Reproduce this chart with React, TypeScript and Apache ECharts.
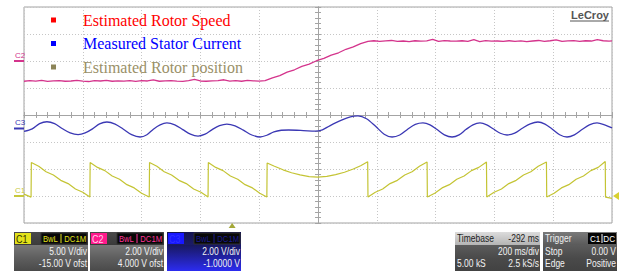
import React, { useEffect, useRef } from "react";
import * as echarts from "echarts";

// ---- Screen: 10 div x 200 ms/div (time in ms from left edge), 8 vertical div ----
const timeSpan = [0, 2000];
const msPerDiv = 200;
const triggerTime = 708; // -292 ms timebase delay -> trigger at centre - 292 ms

// ---- Channels: C1 position, C2 speed, C3 current ----
const channelNames = ["C1", "C2", "C3"];
const voltsPerDiv = [5, 2, 2];
const channelOffsets = [-15, 4, -1];
const channelLabelColors = ["#c8c83c", "#d4348c", "#3b38b4"];

// ---- Legend ----
const legendNames = ["Estimated Rotor Speed", "Measured Stator Current", "Estimated Rotor position"];
const legendTextColors = ["#ff0000", "#0000ff", "#9a9068"];
const legendMarkColors = ["#ff0000", "#0000ff", "#8c8458"];

// ---- Trace colours ----
const speedColor = "#d4348c";
const currentColor = "#3b38b4";
const positionColor = "#c4c434";

// ---- C2: estimated rotor speed [ms, V] ----
const speedData: [number, number][] = [
  [0, -1.5], [20, -1.46], [40, -1.49], [60, -1.44], [80, -1.51], [100, -1.47], [120, -1.45], [140, -1.5],
  [160, -1.48], [180, -1.43], [200, -1.49], [220, -1.52], [240, -1.46], [260, -1.48], [280, -1.44], [300, -1.5],
  [320, -1.47], [340, -1.49], [360, -1.45], [380, -1.51], [400, -1.46], [420, -1.48], [440, -1.4], [460, -1.5],
  [480, -1.47], [500, -1.45], [520, -1.49], [540, -1.51], [560, -1.46], [580, -1.36], [600, -1.48], [620, -1.5],
  [640, -1.47], [660, -1.45], [680, -1.39], [700, -1.49], [720, -1.46], [740, -1.5], [760, -1.44], [780, -1.47],
  [800, -1.49], [820, -1.46],
  [845, -1.25], [870, -1.08], [895, -0.83], [920, -0.65], [945, -0.4], [970, -0.23], [995, 0.02], [1020, 0.19],
  [1045, 0.44], [1070, 0.61], [1095, 0.87], [1120, 1.04], [1145, 1.29], [1170, 1.46],
  [1190, 1.5], [1210, 1.45], [1230, 1.49], [1250, 1.52], [1270, 1.46], [1290, 1.48], [1310, 1.44], [1330, 1.5],
  [1350, 1.47], [1370, 1.49], [1390, 1.6], [1410, 1.45], [1430, 1.51], [1450, 1.48], [1470, 1.47], [1490, 1.5],
  [1510, 1.46], [1530, 1.58], [1550, 1.44], [1570, 1.51], [1590, 1.47], [1610, 1.48], [1630, 1.45], [1650, 1.5],
  [1670, 1.46], [1690, 1.49], [1710, 1.43], [1730, 1.48], [1750, 1.52], [1770, 1.46], [1790, 1.5], [1810, 1.57],
  [1830, 1.45], [1850, 1.49], [1870, 1.51], [1890, 1.46], [1910, 1.5], [1930, 1.48], [1950, 1.58], [1970, 1.5],
  [1990, 1.47], [2000, 1.49],
];

// ---- C3: measured stator current [ms, V] ----
const currentData: [number, number][] = [
  [0, -0.22], [28, -0.03], [53, 0.36], [78, 0.5], [104, 0.36], [131, -0.02], [157, -0.33], [184, -0.45],
  [208, -0.33], [233, -0.03], [257, 0.34], [282, 0.48], [310, 0.33], [338, -0.05], [366, -0.46], [395, -0.63],
  [418, -0.46], [440, -0.05], [463, 0.27], [486, 0.41], [513, 0.27], [540, -0.08], [566, -0.42], [592, -0.56],
  [616, -0.42], [640, -0.08], [665, 0.21], [690, 0.33], [718, 0.2], [746, -0.12], [775, -0.48], [803, -0.63],
  [826, -0.5], [850, -0.25], [875, -0.13], [900, -0.11], [950, -0.15], [990, -0.2], [1015, -0.1], [1040, 0.2],
  [1080, 0.62], [1110, 0.86], [1136, 0.93], [1165, 0.72], [1195, 0.18], [1225, -0.42], [1252, -0.63],
  [1278, -0.48], [1305, -0.05], [1331, 0.3], [1357, 0.41], [1381, 0.27], [1405, -0.08], [1430, -0.47],
  [1456, -0.63], [1480, -0.47], [1503, -0.08], [1527, 0.27], [1551, 0.41], [1574, 0.27], [1597, -0.04],
  [1620, -0.35], [1643, -0.48], [1669, -0.34], [1695, 0.02], [1722, 0.34], [1748, 0.48], [1772, 0.33],
  [1797, -0.05], [1822, -0.46], [1847, -0.63], [1872, -0.47], [1898, -0.08], [1923, 0.27], [1949, 0.41],
  [1975, 0.27], [2000, 0.04],
];

// ---- C1: estimated rotor position [ms, V] ----
const positionData: [number, number][] = [
  [0, 0.35], [24, -0.2], [25, 6.2],
  [50, 5.5], [75, 4.5], [100, 3.9], [125, 2.9], [150, 2.3], [175, 1.3], [200, 0.7], [224, -0.2], [225, 6.2],
  [250, 5.3], [275, 4.7], [300, 3.7], [325, 3.1], [350, 2.1], [375, 1.5], [400, 0.5], [426, -0.2], [427, 6.2],
  [452, 5.5], [477, 4.5], [502, 3.9], [527, 2.9], [552, 2.3], [577, 1.3], [602, 0.7], [626, -0.2], [627, 6.2],
  [652, 5.3], [677, 4.7], [702, 3.7], [727, 3.1], [752, 2.1], [777, 1.5], [802, 0.5], [826, -0.2], [827, 6.1],
  [850, 5.55], [881, 4.85], [910, 4.3], [939, 3.9], [970, 3.6], [1000, 3.5], [1030, 3.62], [1060, 3.95],
  [1090, 4.4], [1120, 5.0], [1145, 5.6], [1169, 6.35], [1170, -0.2],
  [1195, 0.7], [1220, 1.3], [1245, 2.3], [1270, 2.9], [1295, 3.9], [1320, 4.5], [1345, 5.5], [1371, 6.3], [1372, -0.2],
  [1397, 0.5], [1422, 1.5], [1447, 2.1], [1472, 3.1], [1497, 3.7], [1522, 4.7], [1547, 5.3], [1573, 6.3], [1574, -0.2],
  [1599, 0.7], [1624, 1.3], [1649, 2.3], [1674, 2.9], [1699, 3.9], [1724, 4.5], [1749, 5.5], [1777, 6.3], [1778, -0.2],
  [1803, 0.5], [1828, 1.5], [1853, 2.1], [1878, 3.1], [1903, 3.7], [1928, 4.7], [1953, 5.3], [1977, 6.4], [1978, -0.2],
  [2000, -0.45],
];

// ---- Bottom info panels ----
const panelVdiv = ["5.00 V/div", "2.00 V/div", "2.00 V/div"];
const panelOfst = ["-15.00 V ofst", "4.000 V ofst", "-1.0000 V"];
const timebaseTexts = ["Timebase", "-292 ms", "200 ms/div", "5.00 kS", "2.5 kS/s"];
const triggerTexts = ["Trigger", "C1", "DC", "Stop", "0.00 V", "Edge", "Positive"];

const SANS = '"Liberation Sans", Arial, sans-serif';
const SERIF = '"Liberation Serif", "Times New Roman", serif';

function vgrad(stops: string[]) {
  return new echarts.graphic.LinearGradient(
    0, 0, 0, 1,
    stops.map((c, i) => ({ offset: i / (stops.length - 1), color: c }))
  );
}

function ptext(x: number, y: number, text: string, fill: string, align: string, size = 10, sx = 0.85) {
  return {
    type: "text", x, y, scaleX: sx, z: 20,
    style: { text, fill, fontFamily: SANS, fontSize: size, align, verticalAlign: "middle" },
  };
}

function channelPanel(x: number, i: number): any[] {
  const w = 74, top = 232;
  const badgeBg = ["#e2e21a", "#ff1a8c", "#1818ff"][i];
  const badgeTx = ["#303000", "#ffd0e8", "#3030ff"][i];
  const boxTx = ["#e2e21a", "#ff3399", "#1a1a90"][i];
  const head = i === 2 ? ["#141450", "#1c1c66"] : ["#4a4a4a", "#3a3a3a"];
  const body = i === 2 ? ["#181860", "#2222a8", "#2c2cf0"] : ["#787878", "#5e5e5e", "#4a4a4a"];
  return [
    { type: "rect", shape: { x, y: top, width: w, height: 13 }, style: { fill: vgrad(head) }, z: 10 },
    { type: "rect", shape: { x, y: top + 13, width: w, height: 26 }, style: { fill: vgrad(body) }, z: 10 },
    { type: "rect", shape: { x: x + 1, y: top + 1, width: 16, height: 11 }, style: { fill: badgeBg }, z: 11 },
    ptext(x + 2, top + 7, channelNames[i], badgeTx, "left", 10, 0.9),
    { type: "rect", shape: { x: x + 27, y: top + 1, width: 46, height: 11 }, style: { fill: "#080808", stroke: "#303030" }, z: 11 },
    ptext(x + 29, top + 7, "BwL", boxTx, "left", 8.5, 0.9),
    { type: "line", shape: { x1: x + 47, y1: top + 2, x2: x + 47, y2: top + 11 }, style: { stroke: boxTx, lineWidth: 1 }, z: 12 },
    ptext(x + 72, top + 7, "DC1M", boxTx, "right", 8.5, 0.9),
    ptext(x + 73, top + 20, panelVdiv[i], "#f2f2f2", "right"),
    ptext(x + 73, top + 32, panelOfst[i], "#f2f2f2", "right"),
  ];
}

function timebasePanel(): any[] {
  const x = 455, w = 85, top = 232;
  return [
    { type: "rect", shape: { x, y: top, width: w, height: 13 }, style: { fill: vgrad(["#dcdcdc", "#b4b4b4"]) }, z: 10 },
    { type: "rect", shape: { x, y: top + 13, width: w, height: 26 }, style: { fill: vgrad(["#5c5c5c", "#4a4a4a", "#424242"]) }, z: 10 },
    ptext(x + 2, top + 7, timebaseTexts[0], "#1e1e1e", "left"),
    ptext(x + 84, top + 7, timebaseTexts[1], "#1e1e1e", "right"),
    ptext(x + 84, top + 20, timebaseTexts[2], "#f2f2f2", "right"),
    ptext(x + 2, top + 32, timebaseTexts[3], "#f2f2f2", "left"),
    ptext(x + 84, top + 32, timebaseTexts[4], "#f2f2f2", "right"),
  ];
}

function triggerPanel(): any[] {
  const x = 543, w = 74, top = 232;
  return [
    { type: "rect", shape: { x, y: top, width: w, height: 13 }, style: { fill: vgrad(["#7a7a7a", "#5a5a5a"]) }, z: 10 },
    { type: "rect", shape: { x, y: top + 13, width: w, height: 26 }, style: { fill: vgrad(["#5c5c5c", "#4a4a4a", "#424242"]) }, z: 10 },
    ptext(x + 2, top + 7, triggerTexts[0], "#f0f0f0", "left"),
    { type: "rect", shape: { x: x + 45, y: top + 1, width: 28, height: 11 }, style: { fill: "#050505" }, z: 11 },
    ptext(x + 47, top + 7, triggerTexts[1], "#ffffff", "left", 9, 0.9),
    { type: "line", shape: { x1: x + 59, y1: top + 2, x2: x + 59, y2: top + 11 }, style: { stroke: "#ffffff", lineWidth: 1 }, z: 12 },
    ptext(x + 72, top + 7, triggerTexts[2], "#ffffff", "right", 9, 0.9),
    ptext(x + 2, top + 20, triggerTexts[3], "#f2f2f2", "left"),
    ptext(x + 73, top + 20, triggerTexts[4], "#f2f2f2", "right"),
    ptext(x + 2, top + 32, triggerTexts[5], "#f2f2f2", "left"),
    ptext(x + 73, top + 32, triggerTexts[6], "#f2f2f2", "right"),
  ];
}

export default function App() {
  const ref = useRef<HTMLDivElement>(null);

  useEffect(() => {
    if (!ref.current) return;
    const chart = echarts.init(ref.current, undefined, { renderer: "svg" });

    const gridLine = { show: true, lineStyle: { color: "#c6c6c6", type: [1, 2], width: 1 } };
    const hidden = { axisLine: { show: false }, axisTick: { show: false }, axisLabel: { show: false } };
    const centreX = (inside: boolean) => ({
      type: "value", min: timeSpan[0], max: timeSpan[1], interval: msPerDiv,
      position: "bottom", offset: -108,
      axisLine: { show: true, onZero: false, lineStyle: { color: "#a4a4a4", width: 1 } },
      axisTick: { show: true, inside, length: 3, lineStyle: { color: "#a4a4a4" } },
      minorTick: { show: true, splitNumber: 5, length: 3, lineStyle: { color: "#a4a4a4" } },
      axisLabel: { show: false }, splitLine: { show: false },
    });
    const centreY = (inside: boolean) => ({
      type: "value", min: -4, max: 4, interval: 1,
      position: "left", offset: -294,
      axisLine: { show: true, onZero: false, lineStyle: { color: "#a4a4a4", width: 1 } },
      axisTick: { show: true, inside, length: 3, lineStyle: { color: "#a4a4a4" } },
      minorTick: { show: true, splitNumber: 5, length: 3, lineStyle: { color: "#a4a4a4" } },
      axisLabel: { show: false }, splitLine: { show: false },
    });
    const chAxis = (i: number, showSplit: boolean) => ({
      type: "value",
      min: -channelOffsets[i] - 4 * voltsPerDiv[i],
      max: -channelOffsets[i] + 4 * voltsPerDiv[i],
      interval: voltsPerDiv[i],
      ...hidden,
      splitLine: showSplit ? gridLine : { show: false },
    });

    chart.setOption({
      animation: false,
      backgroundColor: "#ffffff",
      grid: { left: 24, top: 7, width: 588, height: 216, show: true, borderColor: "#a2a2a2", borderWidth: 1, backgroundColor: "transparent" },
      legend: {
        orient: "vertical", left: 46, top: 7, itemGap: 7.5, icon: "rect", itemWidth: 5, itemHeight: 5,
        selectedMode: false,
        textStyle: { fontFamily: SERIF, fontSize: 16, padding: [0, 0, 0, 22] },
        data: legendNames.map((n, i) => ({
          name: n, itemStyle: { color: legendMarkColors[i] }, textStyle: { color: legendTextColors[i] },
        })),
      },
      xAxis: [
        { type: "value", min: timeSpan[0], max: timeSpan[1], interval: msPerDiv, ...hidden, splitLine: gridLine },
        centreX(true),
        centreX(false),
      ],
      yAxis: [chAxis(0, true), chAxis(1, false), chAxis(2, false), centreY(true), centreY(false)],
      series: [
        {
          name: legendNames[0], type: "line", xAxisIndex: 0, yAxisIndex: 1, data: speedData,
          showSymbol: false, symbol: "none", lineStyle: { color: speedColor, width: 1.3 }, itemStyle: { color: speedColor }, z: 4,
        },
        {
          name: legendNames[1], type: "line", xAxisIndex: 0, yAxisIndex: 2, data: currentData, smooth: 0.3,
          showSymbol: false, symbol: "none", lineStyle: { color: currentColor, width: 1.3 }, itemStyle: { color: currentColor }, z: 3,
        },
        {
          name: legendNames[2], type: "line", xAxisIndex: 0, yAxisIndex: 0, data: positionData,
          showSymbol: false, symbol: "none", lineStyle: { color: positionColor, width: 1.2 }, itemStyle: { color: positionColor }, z: 2,
        },
      ],
    });

    // Channel ground markers, trigger markers: positions via the chart's own scales
    const gfx: any[] = [];
    const gridLeft = chart.convertToPixel({ xAxisIndex: 0 }, timeSpan[0]) as number;
    const gridRight = chart.convertToPixel({ xAxisIndex: 0 }, timeSpan[1]) as number;
    const gridBottom = chart.convertToPixel({ yAxisIndex: 0 }, -channelOffsets[0] - 4 * voltsPerDiv[0]) as number;
    for (let i = 0; i < 3; i++) {
      const y = chart.convertToPixel({ yAxisIndex: i }, 0) as number;
      gfx.push({ type: "line", shape: { x1: gridLeft - 10, y1: y, x2: gridLeft, y2: y }, style: { stroke: channelLabelColors[i], lineWidth: 2 }, z: 5 });
      gfx.push({
        type: "text", x: gridLeft - 9, y: y - 2, z: 5,
        style: { text: channelNames[i], fill: channelLabelColors[i], fontFamily: SANS, fontSize: 8, align: "left", verticalAlign: "bottom" },
      });
    }
    const tx = chart.convertToPixel({ xAxisIndex: 0 }, triggerTime) as number;
    gfx.push({ type: "polygon", shape: { points: [[tx - 3.5, gridBottom + 5], [tx + 3.5, gridBottom + 5], [tx, gridBottom]] }, style: { fill: "#a4a838" }, z: 5 });
    const ty = chart.convertToPixel({ yAxisIndex: 0 }, 0) as number;
    gfx.push({ type: "polygon", shape: { points: [[gridRight + 1, ty], [gridRight + 7, ty - 4], [gridRight + 7, ty + 4]] }, style: { fill: "#d8d030" }, z: 5 });
    // LeCroy logo
    gfx.push({
      type: "text", x: gridRight - 3, y: 15, z: 5,
      style: { text: "LeCroy", fill: "#555555", fontFamily: SANS, fontSize: 11, fontWeight: "bold", align: "right", verticalAlign: "middle" },
    });
    gfx.push({ type: "line", shape: { x1: gridRight - 42, y1: 21, x2: gridRight - 3, y2: 21 }, style: { stroke: "#555555", lineWidth: 1 }, z: 5 });

    gfx.push(...channelPanel(14, 0), ...channelPanel(90, 1), ...channelPanel(167, 2), ...timebasePanel(), ...triggerPanel());
    chart.setOption({ graphic: gfx });

    return () => chart.dispose();
  }, []);

  return <div ref={ref} style={{ position: "absolute", left: 0, top: 0, width: 627, height: 272 }} />;
}
